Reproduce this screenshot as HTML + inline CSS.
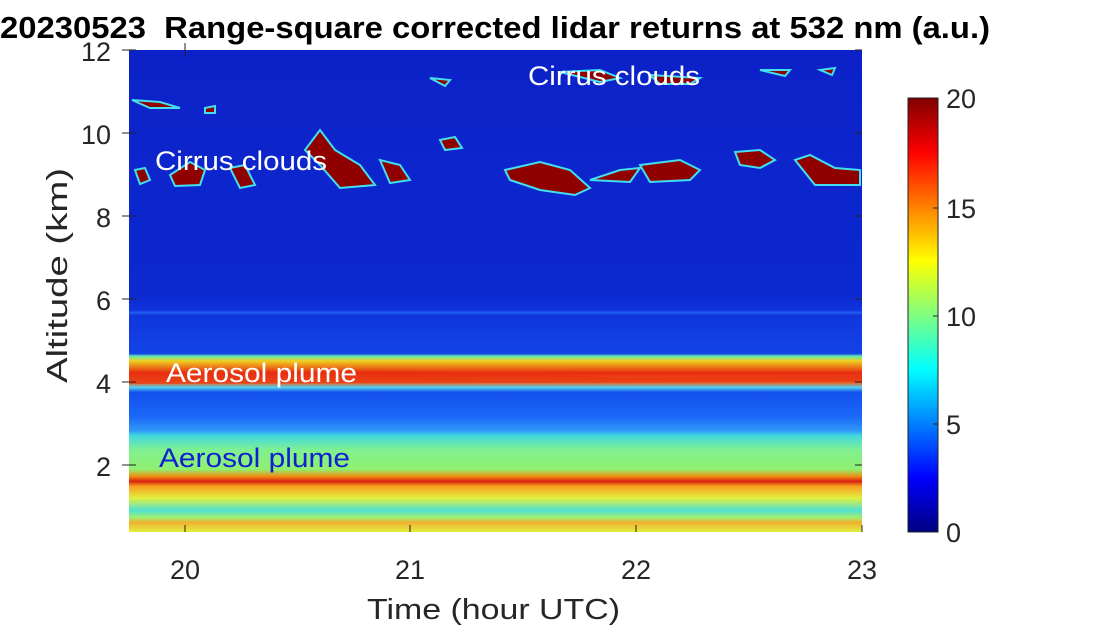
<!DOCTYPE html>
<html><head><style>body{margin:0;background:#fff}svg{display:block}</style></head><body>
<svg width="1103" height="630" xmlns="http://www.w3.org/2000/svg" font-family="Liberation Sans, sans-serif">
<defs>
<linearGradient id="bg" x1="0" y1="50" x2="0" y2="532" gradientUnits="userSpaceOnUse">
<stop offset="0" stop-color="#0c22c8"/>
<stop offset="0.5" stop-color="#0c28d0"/>
<stop offset="0.54" stop-color="#1034dc"/>
<stop offset="0.545" stop-color="#2060f0"/>
<stop offset="0.55" stop-color="#1036dc"/>
<stop offset="0.63" stop-color="#1244e6"/>
<stop offset="0.635" stop-color="#60e8b0"/>
<stop offset="0.645" stop-color="#f0d020"/>
<stop offset="0.67" stop-color="#e82a10"/>
<stop offset="0.69" stop-color="#f06020"/>
<stop offset="0.70" stop-color="#50d0f0"/>
<stop offset="0.71" stop-color="#1450ee"/>
<stop offset="0.76" stop-color="#1a68f8"/>
<stop offset="0.79" stop-color="#3098f8"/>
<stop offset="0.80" stop-color="#40d8e0"/>
<stop offset="0.83" stop-color="#80f090"/>
<stop offset="0.87" stop-color="#90f070"/>
<stop offset="0.885" stop-color="#f08a10"/>
<stop offset="0.895" stop-color="#d82010"/>
<stop offset="0.905" stop-color="#f8a020"/>
<stop offset="0.93" stop-color="#e0f040"/>
<stop offset="0.955" stop-color="#50e0d0"/>
<stop offset="0.97" stop-color="#a0f070"/>
<stop offset="0.98" stop-color="#f0b030"/>
<stop offset="1" stop-color="#e0f040"/>
</linearGradient>
<linearGradient id="cb" x1="0" y1="98" x2="0" y2="532" gradientUnits="userSpaceOnUse">
<stop offset="0" stop-color="#800000"/>
<stop offset="0.125" stop-color="#ff0000"/>
<stop offset="0.375" stop-color="#ffff00"/>
<stop offset="0.625" stop-color="#00ffff"/>
<stop offset="0.875" stop-color="#0000ff"/>
<stop offset="1" stop-color="#000080"/>
</linearGradient>
</defs>
<rect x="129" y="50" width="733" height="482" fill="url(#bg)"/>
<g stroke="#40e0f0" stroke-width="2" fill="#900000">
<path d="M135,170 L145,168 L150,180 L140,184Z"/>
<path d="M170,175 L190,162 L205,170 L200,185 L175,186Z"/>
<path d="M230,168 L245,165 L255,185 L240,188Z"/>
<path d="M305,150 L320,130 L335,150 L360,165 L375,185 L340,188 L320,165Z"/>
<path d="M380,160 L400,165 L410,180 L390,183Z"/>
<path d="M440,140 L455,137 L462,148 L445,150Z"/>
<path d="M505,170 L540,162 L570,170 L590,188 L575,195 L540,190 L510,180Z"/>
<path d="M590,180 L620,170 L640,168 L630,182Z"/>
<path d="M640,165 L680,160 L700,170 L690,180 L650,182Z"/>
<path d="M735,152 L760,150 L775,160 L760,168 L740,165Z"/>
<path d="M795,160 L810,155 L835,168 L860,170 L860,185 L815,185Z"/>
<path d="M132,100 L160,102 L180,108 L150,108Z"/>
<path d="M205,108 L215,106 L215,113 L205,113Z"/>
<path d="M430,78 L450,80 L445,86Z"/>
<path d="M560,72 L600,70 L620,78 L600,82Z"/>
<path d="M650,75 L700,78 L690,84 L660,84Z"/>
<path d="M760,70 L790,70 L785,76Z"/>
<path d="M820,70 L835,68 L832,75Z"/>
</g>
<path d="M129,376 Q300,368 450,372 T620,378 L862,376 L862,382 L129,384Z" fill="#e83010" opacity="0.6"/>
<g stroke="#222" stroke-width="1">
<path d="M122,50h14M122,133h14M122,216h14M122,299h14M122,382h14M122,465h14"/>
<path d="M862,50h-7M862,133h-7M862,216h-7M862,299h-7M862,382h-7M862,465h-7"/>
<path d="M185,532v-7M410,532v-7M636,532v-7M862,532v-7M185,43v14"/>
</g>
<g font-size="27" fill="#262626">
<g text-anchor="end">
<text x="111" y="61">12</text><text x="111" y="144">10</text><text x="111" y="227">8</text>
<text x="111" y="310">6</text><text x="111" y="393">4</text><text x="111" y="476">2</text>
</g>
<g text-anchor="middle">
<text x="185" y="579">20</text><text x="410" y="579">21</text><text x="636" y="579">22</text><text x="862" y="579">23</text>
</g>
<text x="367" y="619" font-size="29" textLength="253" lengthAdjust="spacingAndGlyphs">Time (hour UTC)</text>
<text transform="translate(67,383) rotate(-90)" font-size="29" textLength="215" lengthAdjust="spacingAndGlyphs">Altitude (km)</text>
</g>
<text x="0" y="38" font-size="31" font-weight="bold" fill="#000" xml:space="preserve" textLength="990" lengthAdjust="spacingAndGlyphs">20230523  Range-square corrected lidar returns at 532 nm (a.u.)</text>
<g font-size="27">
<text x="528" y="85" fill="#fff" textLength="172" lengthAdjust="spacingAndGlyphs">Cirrus clouds</text>
<text x="155" y="170" fill="#fff" textLength="172" lengthAdjust="spacingAndGlyphs">Cirrus clouds</text>
<text x="166" y="382" fill="#fff" textLength="191" lengthAdjust="spacingAndGlyphs">Aerosol plume</text>
<text x="159" y="467" fill="#1020d0" textLength="191" lengthAdjust="spacingAndGlyphs">Aerosol plume</text>
</g>
<rect x="908" y="98" width="30" height="434" fill="url(#cb)" stroke="#222" stroke-width="1"/>
<g stroke="#222"><path d="M938,208h-5M938,316h-5M938,424h-5"/></g>
<g font-size="27" fill="#262626">
<text x="946" y="108">20</text><text x="946" y="218">15</text><text x="946" y="326">10</text>
<text x="946" y="434">5</text><text x="946" y="542">0</text>
</g>
</svg>
</body></html>
